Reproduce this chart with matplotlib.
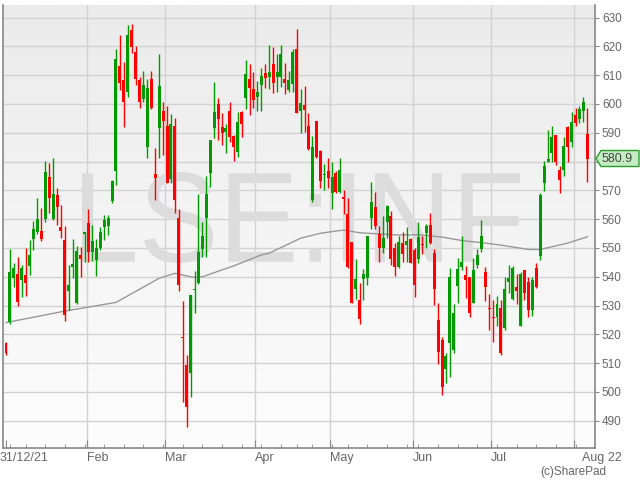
import matplotlib
matplotlib.use('Agg')
import matplotlib.pyplot as plt
import numpy as np
import datetime as dt
from matplotlib.patches import Rectangle, Polygon, PathPatch
from matplotlib.textpath import TextPath
from matplotlib.font_manager import FontProperties
from matplotlib.transforms import Affine2D
from matplotlib.colors import LinearSegmentedColormap

# ---------------- data ----------------
opens = [517.0, 524.4, 539.5, 541.0, 538.9, 540.5, 543.9, 553.1, 555.4, 555.9,
         560.0, 574.5, 560.2, 568.3, 557.2, 552.8, 535.2, 543.3, 530.9, 547.5,
         554.8, 558.7, 548.7, 545.7, 549.9, 557.4, 557.7, 566.3, 576.9, 613.2,
         608.3, 604.0, 625.7, 618.2, 608.3, 601.6, 585.2, 608.6, 575.7, 591.6,
         597.6, 592.4, 574.0, 592.4, 560.4, 519.2, 509.4, 506.5, 535.5, 537.7,
         549.8, 560.3, 576.0, 591.6, 600.0, 592.0, 590.4, 597.6, 588.9, 583.5,
         597.1, 602.0, 608.6, 605.1, 602.3, 606.6, 610.7, 609.3, 613.9, 609.3,
         609.3, 608.6, 604.9, 606.9, 619.0, 597.7, 599.7, 592.4, 566.7, 594.1,
         583.7, 575.2, 576.8, 569.0, 576.2, 569.6, 567.6, 561.8, 552.2, 535.7,
         531.9, 539.1, 539.5, 560.3, 564.1, 554.9, 549.9, 559.2, 561.1, 549.9,
         543.5, 551.6, 551.0, 553.0, 549.3, 546.1, 551.4, 555.3, 558.0, 548.4,
         525.0, 518.1, 507.9, 517.1, 514.6, 536.8, 543.5, 540.6, 539.8, 531.0,
         544.1, 549.5, 541.8, 529.3, 526.2, 526.0, 529.1, 522.2, 538.3, 532.2,
         536.4, 522.9, 542.2, 538.3, 528.5, 543.0, 547.3, 572.7, 579.8, 583.1,
         589.3, 577.0, 577.1, 591.9, 586.9, 596.2, 594.7, 597.7, 589.6]
highs = [517.5, 549.5, 544.7, 547.0, 544.0, 550.0, 552.8, 559.4, 567.3, 563.8,
         580.2, 579.6, 581.3, 570.7, 565.0, 557.6, 544.0, 553.0, 550.8, 550.5,
         555.7, 563.4, 558.0, 553.2, 557.2, 561.5, 561.5, 573.5, 619.0, 624.0,
         614.5, 627.4, 627.8, 620.1, 609.5, 611.6, 608.7, 611.6, 584.6, 617.4,
         600.7, 599.3, 596.4, 595.2, 563.4, 531.5, 512.8, 533.7, 542.0, 568.6,
         559.2, 575.0, 587.5, 607.5, 602.0, 596.8, 593.1, 600.6, 589.2, 597.3,
         597.7, 615.3, 613.9, 611.0, 608.0, 612.4, 613.9, 620.5, 619.7, 617.4,
         620.5, 614.1, 611.6, 619.0, 625.9, 605.1, 606.3, 596.8, 588.9, 594.1,
         584.0, 579.0, 581.2, 580.0, 576.9, 581.2, 570.1, 567.3, 552.2, 546.1,
         538.0, 542.6, 554.2, 573.0, 569.6, 557.6, 561.1, 564.9, 563.0, 551.6,
         554.2, 555.7, 557.4, 553.4, 549.9, 559.2, 554.0, 558.3, 562.0, 549.5,
         530.8, 519.2, 513.4, 543.2, 530.6, 546.4, 554.2, 543.8, 540.0, 546.4,
         549.5, 559.7, 543.5, 533.9, 532.0, 533.3, 532.0, 539.8, 544.0, 543.8,
         541.0, 541.8, 542.5, 540.0, 540.0, 544.9, 569.0, 580.2, 590.8, 592.4,
         589.3, 578.5, 588.7, 592.2, 597.3, 598.5, 599.3, 602.3, 598.5]
lows = [512.8, 523.6, 536.4, 530.0, 532.9, 533.3, 540.6, 549.3, 554.8, 552.4,
        559.2, 562.0, 559.7, 558.0, 553.5, 524.5, 528.5, 539.5, 530.7, 540.0,
        545.0, 545.3, 545.6, 540.3, 549.3, 552.8, 554.5, 565.5, 572.0, 605.0,
        592.1, 602.6, 617.6, 606.6, 598.5, 600.8, 581.1, 598.2, 566.7, 581.2,
        582.4, 572.5, 572.5, 562.0, 535.0, 496.5, 487.8, 498.4, 527.3, 537.5,
        547.0, 547.0, 571.3, 588.1, 587.5, 585.8, 582.9, 586.9, 580.3, 581.5,
        588.7, 598.3, 596.2, 598.5, 597.5, 597.7, 605.5, 605.1, 603.8, 604.3,
        606.0, 603.5, 604.3, 604.3, 597.0, 590.0, 590.4, 584.0, 565.8, 581.2,
        570.7, 570.2, 570.7, 563.4, 569.0, 569.0, 561.8, 543.0, 530.8, 532.2,
        523.6, 531.9, 537.2, 556.5, 556.5, 545.2, 548.2, 553.4, 544.1, 540.3,
        543.0, 545.3, 545.3, 544.7, 533.1, 544.7, 548.0, 550.0, 551.4, 530.2,
        509.7, 499.0, 503.0, 505.3, 513.5, 530.8, 542.4, 532.6, 526.2, 530.8,
        543.0, 548.7, 531.7, 521.5, 517.4, 522.9, 512.8, 521.5, 534.5, 532.0,
        530.7, 522.8, 532.0, 526.2, 526.4, 536.0, 545.8, 569.9, 579.8, 580.0,
        578.8, 569.0, 575.0, 580.0, 585.2, 592.2, 593.5, 593.9, 573.0]
closes = [513.5, 541.6, 543.2, 531.4, 543.0, 538.0, 547.5, 556.6, 560.0, 553.0,
          576.4, 567.3, 568.8, 564.3, 556.0, 526.6, 537.2, 544.3, 549.0, 546.1,
          555.6, 548.7, 552.5, 549.9, 555.6, 559.7, 560.3, 573.3, 615.5, 607.2,
          600.8, 624.0, 619.9, 608.7, 600.8, 606.6, 605.7, 598.5, 574.2, 606.3,
          594.2, 572.7, 593.1, 566.5, 537.0, 518.8, 494.9, 533.7, 535.9, 548.6,
          554.2, 568.8, 587.5, 597.1, 594.8, 589.9, 591.6, 588.7, 585.2, 593.6,
          593.2, 610.4, 605.5, 601.5, 604.1, 609.7, 608.9, 611.2, 607.2, 611.0,
          617.3, 607.2, 608.3, 618.0, 597.0, 600.2, 597.9, 584.3, 584.9, 581.7,
          573.1, 575.6, 574.4, 574.6, 569.6, 577.1, 566.9, 543.3, 531.0, 539.1,
          525.2, 541.0, 554.2, 566.1, 557.6, 549.9, 553.4, 564.6, 546.1, 543.5,
          552.0, 548.0, 552.4, 544.7, 537.2, 553.7, 551.1, 557.5, 551.9, 535.7,
          514.0, 501.6, 512.5, 539.8, 527.3, 542.6, 545.3, 538.9, 527.5, 542.4,
          547.6, 554.1, 536.4, 528.9, 525.8, 530.6, 513.7, 535.7, 539.5, 543.0,
          534.9, 541.0, 534.3, 528.5, 538.9, 536.6, 568.4, 578.6, 580.8, 588.7,
          580.0, 573.5, 585.4, 585.0, 593.9, 593.5, 598.2, 600.8, 580.9]

# moving-average line, read at a few candle positions
ma_idx = [0, 12, 15, 28, 39, 43, 46, 48, 50, 55, 58, 65, 67, 75, 80, 84, 86,
          90, 95, 100, 105, 108, 111, 116, 122, 126, 133, 136, 143, 148]
ma_val = [524.1, 527.3, 528.1, 531.1, 539.5, 541.2, 540.3, 539.8, 540.0, 542.4,
          543.8, 547.6, 548.2, 553.4, 555.1, 555.9, 556.2, 555.3, 554.9, 554.5,
          554.6, 554.2, 553.8, 552.6, 551.7, 551.0, 549.5, 549.5, 551.7, 553.9]

month_labels = ["31/12/21", "Feb", "Mar", "Apr", "May", "Jun", "Jul", "Aug 22"]
y_ticks = [490, 500, 510, 520, 530, 540, 550, 560, 570, 580, 590, 600, 610, 620, 630]
last_price = "580.9"
watermark = "LSE:INF"
credit = "(c)SharePad"

# ---------------- trading calendar ----------------
holidays = {dt.date(2022, 1, 3), dt.date(2022, 4, 15), dt.date(2022, 4, 18),
            dt.date(2022, 5, 2), dt.date(2022, 6, 2), dt.date(2022, 6, 3)}
days = [dt.date(2021, 12, 31)]
d = dt.date(2022, 1, 4)
while len(days) < len(closes):
    if d.weekday() < 5 and d not in holidays:
        days.append(d)
    d += dt.timedelta(days=1)

# first trading day of each month from February on
month_starts = [k for k in range(2, len(days)) if days[k].month != days[k - 1].month]
weeks = [k for k in range(1, len(days)) if days[k].isocalendar()[1] != days[k - 1].isocalendar()[1]]

# ---------------- figure ----------------
W, H = 640, 480
fig = plt.figure(figsize=(6.4, 4.8), dpi=100)
fig.patch.set_facecolor('white')
L_px, R_px, T_px, B_px = 3, 595, 5, 448
ax = fig.add_axes([L_px / W, 1 - B_px / H, (R_px - L_px) / W, (B_px - T_px) / H])


def px_to_idx(x):
    return (x - 6.0) / 3.928


def py_to_price(y):
    return 600 - (y - 104.0) / 2.88


ax.set_xlim(px_to_idx(L_px), px_to_idx(R_px))
ax.set_ylim(py_to_price(B_px), py_to_price(T_px))

# gradient background
grad = np.linspace(0, 1, 256).reshape(-1, 1)
cmap = LinearSegmentedColormap.from_list('bg', ['#ebebeb', '#fdfdfd'])
ax.imshow(grad, extent=[0, 1, 0, 1], transform=ax.transAxes, cmap=cmap,
          aspect='auto', zorder=0, origin='upper')

# grid
for p in y_ticks:
    ax.axhline(p, color='#d2d2d2', lw=1.0, zorder=1)
for k in month_starts:
    ax.axvline(k - 0.5, color='#d2d2d2', lw=1.0, zorder=1)

# watermark
fp = FontProperties(family='Liberation Sans')
tp = TextPath((0, 0), watermark, size=100, prop=fp)
bb = tp.get_extents()
x0, x1, y0, y1 = 82, 520, 172, 263
tr = (Affine2D().translate(-bb.x0, -bb.y0)
      .scale((x1 - x0) / W / bb.width, (y1 - y0) / H / bb.height)
      .translate(x0 / W, 1 - y1 / H) + fig.transFigure)
ax.add_patch(PathPatch(tp, transform=tr, facecolor='#dcdcdc', edgecolor='none', zorder=1.5))

# moving average
ax.plot(ma_idx, ma_val, color='#999999', lw=1.0, zorder=2)

# candles
green, red = '#009a00', '#ff0000'
bw = 0.76
for i, (o, h, l, c) in enumerate(zip(opens, highs, lows, closes)):
    col = green if c >= o else red
    ax.vlines(i, l, h, color=col, lw=1.0, zorder=3)
    bot = min(o, c)
    hgt = max(abs(c - o), 0.35)
    ax.add_patch(Rectangle((i - bw / 2, bot), bw, hgt, facecolor=col,
                           edgecolor='none', zorder=4))

# spines / ticks
ax.spines['top'].set_visible(False)
for s in ['left', 'right', 'bottom']:
    ax.spines[s].set_color('#888888')
    ax.spines[s].set_linewidth(1.2)

ax.yaxis.tick_right()
ax.set_yticks(y_ticks)
ax.set_yticklabels(['' if str(v) == last_price.split('.')[0] else str(v) for v in y_ticks])
ax.tick_params(axis='y', direction='out', length=3, color='#888888',
               labelsize=8.5, labelcolor='#666666', pad=2)
for t in ax.get_yticklabels():
    t.set_fontfamily('Liberation Sans')

ax.set_xticks([0] + [k - 0.5 for k in month_starts])
ax.set_xticklabels([])
ax.set_xticks(weeks, minor=True)
ax.tick_params(axis='x', which='major', direction='in', length=6, color='#888888')
ax.tick_params(axis='x', which='minor', direction='in', length=3, color='#888888')

# month labels (left aligned at the gridline; the last one sits a little further right)
label_x = [px_to_idx(0)] + [k - 0.5 for k in month_starts]
label_x[-1] = px_to_idx(582)
for lab, xv in zip(month_labels, label_x):
    ax.text(xv, -0.008, lab, transform=ax.get_xaxis_transform(), ha='left', va='top',
            fontsize=9, color='#666666', family='Liberation Sans', clip_on=False)

fig.text(606 / W, 1 - 472 / H, credit, ha='right', va='center', fontsize=8.5,
         color='#666666', family='Liberation Sans')

# last price tag
ty = 158.5
poly = [(596, ty), (601, 150.5), (639, 150.5), (639, 166.5), (601, 166.5)]
poly_f = [(x / W, 1 - y / H) for x, y in poly]
fig.patches.append(Polygon(poly_f, closed=True, transform=fig.transFigure,
                           facecolor='#c4ecc4', edgecolor='#2a9d2a', lw=1.0, zorder=10))
fig.text(602 / W, 1 - ty / H, last_price, ha='left', va='center', fontsize=9,
         color='#444444', family='Liberation Sans', zorder=11)

fig.savefig('out.png', dpi=100)
